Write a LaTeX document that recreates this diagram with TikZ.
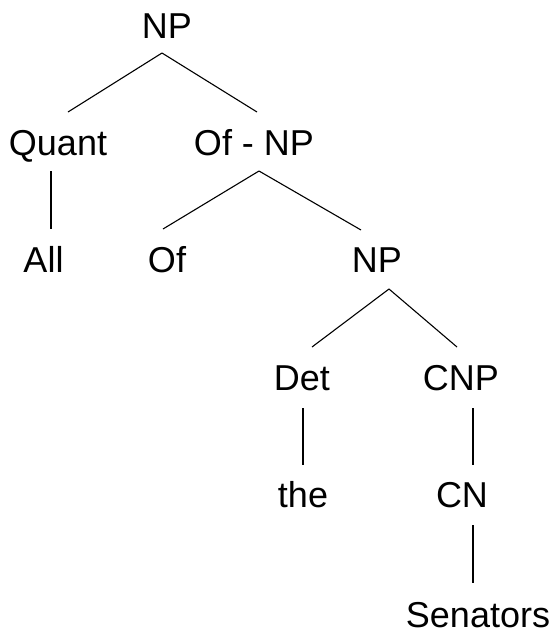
\documentclass[tikz,border=0pt]{standalone}
\usepackage{fontspec}
\setmainfont{Liberation Sans}
\begin{document}
\begin{tikzpicture}[x=1pt,y=1pt,
  lbl/.style={anchor=base,inner sep=0pt,font=\fontsize{36}{43}\selectfont},
  edge/.style={line width=1.1pt,black}]
\useasboundingbox (0,0) rectangle (555,-633);
\node[lbl] (np1) at (167,-38) {NP};
\node[lbl] (quant) at (58,-155) {Quant};
\node[lbl] (ofnp) at (254,-155) {Of - NP};
\node[lbl] (all) at (43.5,-272) {All};
\node[lbl] (of) at (167,-272) {Of};
\node[lbl] (np2) at (377,-272) {NP};
\node[lbl] (det) at (302,-390) {Det};
\node[lbl] (cnp) at (461,-390) {CNP};
\node[lbl] (the) at (303,-507) {the};
\node[lbl] (cn) at (462,-507) {CN};
\node[lbl] (sen) at (478,-627) {Senators};
\draw[edge] ([shift={(-5,-15)}]np1.base) -- ([shift={(10,43)}]quant.base);
\draw[edge] ([shift={(-5,-15)}]np1.base) -- ([shift={(3,43)}]ofnp.base);
\draw[edge] ([shift={(-7,-16)}]quant.base) -- ([shift={(7.5,43)}]all.base);
\draw[edge] ([shift={(5,-16)}]ofnp.base) -- ([shift={(-4,43)}]of.base);
\draw[edge] ([shift={(5,-16)}]ofnp.base) -- ([shift={(-16,42)}]np2.base);
\draw[edge] ([shift={(12,-17)}]np2.base) -- ([shift={(10,43)}]det.base);
\draw[edge] ([shift={(12,-17)}]np2.base) -- ([shift={(-4,43)}]cnp.base);
\draw[edge] ([shift={(1,-18)}]det.base) -- ([shift={(0,42)}]the.base);
\draw[edge] ([shift={(12,-18)}]cnp.base) -- ([shift={(11,42)}]cn.base);
\draw[edge] ([shift={(11,-18)}]cn.base) -- ([shift={(-5,44)}]sen.base);
\end{tikzpicture}
\end{document}
